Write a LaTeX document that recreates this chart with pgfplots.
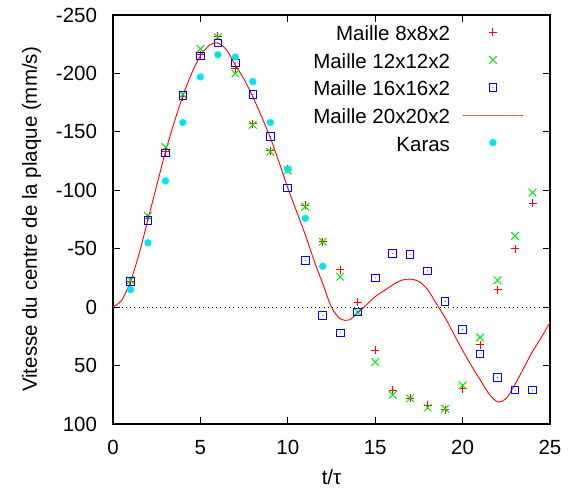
\documentclass[border=0pt]{standalone}
\usepackage{fontspec}
\setmainfont{Liberation Sans}
\usepackage{pgfplots}
\pgfplotsset{compat=1.18}
\definecolor{gpred}{rgb}{1,0,0}
\definecolor{gpgreen}{rgb}{0,0.92,0}
\definecolor{gpblue}{rgb}{0,0,1}
\definecolor{gpcyan}{rgb}{0,0.9,0.92}
\pgfdeclareplotmark{sqdot}{%
  \pgfpathrectangle{\pgfqpoint{-\pgfplotmarksize}{-\pgfplotmarksize}}{\pgfqpoint{2\pgfplotmarksize}{2\pgfplotmarksize}}%
  \pgfusepathqstroke
  \pgfpathcircle{\pgfpointorigin}{0.5pt}\pgfusepathqfill}
\begin{document}
\fontsize{20.5}{24}\selectfont
\begin{tikzpicture}
\path[use as bounding box] (-113pt,-69pt) rectangle (462pt,424pt);
\begin{axis}[
  at={(0pt,0pt)}, anchor=south west,
  scale only axis, width=437pt, height=409pt,
  xmin=0, xmax=25, ymin=-250, ymax=100, y dir=reverse,
  xtick={0,5,...,25}, ytick={-250,-200,...,100},
  tick align=inside, major tick length=7pt,
  axis line style={line width=1.2pt, black},
  every tick/.style={line width=1pt, black},
  /pgf/number format/assume math mode=true,
  yticklabel style={xshift=-9pt},
  xticklabel style={yshift=-9pt},
  xlabel={t/τ}, ylabel={Vitesse du centre de la plaque (mm/s)},
  xlabel style={yshift=-1pt},
  ylabel style={yshift=1pt},
  legend plot pos=right, legend cell align=right,
  legend style={draw=none, fill=none, inner sep=0pt, outer sep=0pt,
    at={(axis description cs:0.938,0.973)}, anchor=north east,
    column sep=13pt, row sep=12.9pt,
    nodes={inner sep=0pt, text height=14.7pt, text depth=0pt}},
  legend image code/.code={\draw[mark repeat=2,mark phase=2,#1] plot coordinates {(0pt,1.2pt) (29.5pt,1.2pt) (59pt,1.2pt)};},
]
\addplot[black, line width=0.8pt, dash pattern=on 0.9pt off 3.4pt, forget plot] coordinates {(0,0) (25,0)};
\addplot[only marks, gpred, mark=+, mark size=4pt, line width=1pt] coordinates {
(1,-22) (2,-76) (3,-133) (4,-180) (5,-216) (6,-232) (7,-204) (8,-157) (9,-134) (10,-118)
(11,-87) (12,-56) (13,-32) (14,-4) (15,37) (16,71) (17,78) (18,84) (19,88) (20,70)
(21,32) (22,-15) (23,-50) (24,-89)};
\addlegendentry{Maille 8x8x2}
\addplot[only marks, gpgreen, mark=x, mark size=5.4pt, line width=1pt] coordinates {
(1,-23) (2,-78) (3,-137) (4,-182) (5,-221) (6,-231) (7,-200) (8,-156) (9,-133) (10,-117)
(11,-86) (12,-56) (13,-26) (14,4) (15,47) (16,75) (17,78) (18,86) (19,87) (20,67)
(21,26) (22,-23) (23,-61) (24,-98)};
\addlegendentry{Maille 12x12x2}
\addplot[only marks, gpblue, mark=sqdot, mark size=3.8pt, line width=1pt] coordinates {
(1,-22) (2,-74) (3,-132) (4,-181) (5,-215) (6,-226) (7,-209) (8,-182) (9,-146) (10,-102)
(11,-40) (12,7) (13,22) (14,4) (15,-25) (16,-46) (17,-45) (18,-31) (19,-5) (20,19)
(21,40) (22,60) (23,71) (24,71)};
\addlegendentry{Maille 16x16x2}
\addplot[gpred, line width=0.9pt, smooth, no marks] coordinates {
(0,0) (0.5,-6) (1,-22) (1.5,-46) (2,-75) (2.5,-104) (3,-133) (3.5,-158) (4,-181) (4.5,-200)
(5,-215) (5.5,-224) (6,-226) (6.5,-220) (7,-207) (7.5,-195) (8,-180) (8.5,-163) (9,-145) (9.5,-124)
(10,-102) (10.5,-82) (11,-62) (11.5,-40) (12,-20) (12.5,0) (13,10) (13.5,11) (14,5) (14.5,-2)
(15,-9) (15.5,-14) (16,-19) (16.5,-23) (17,-24) (17.5,-22) (18,-15) (18.5,-3) (19,9) (19.5,23)
(20,37) (20.5,50) (21,62) (21.5,74) (22,81) (22.5,78) (23,66) (23.5,52) (24,38) (24.5,26) (25,13)};
\addlegendentry{Maille 20x20x2}
\addplot[only marks, gpcyan, mark=*, mark size=3.4pt, mark options={draw=gpcyan, fill=gpcyan}] coordinates {
(1,-15) (2,-55) (3,-108) (4,-158) (5,-197) (6,-216) (7,-214) (8,-193) (9,-158) (10,-118)
(11,-76) (12,-35)};
\addlegendentry{Karas}
\end{axis}
\end{tikzpicture}
\end{document}
